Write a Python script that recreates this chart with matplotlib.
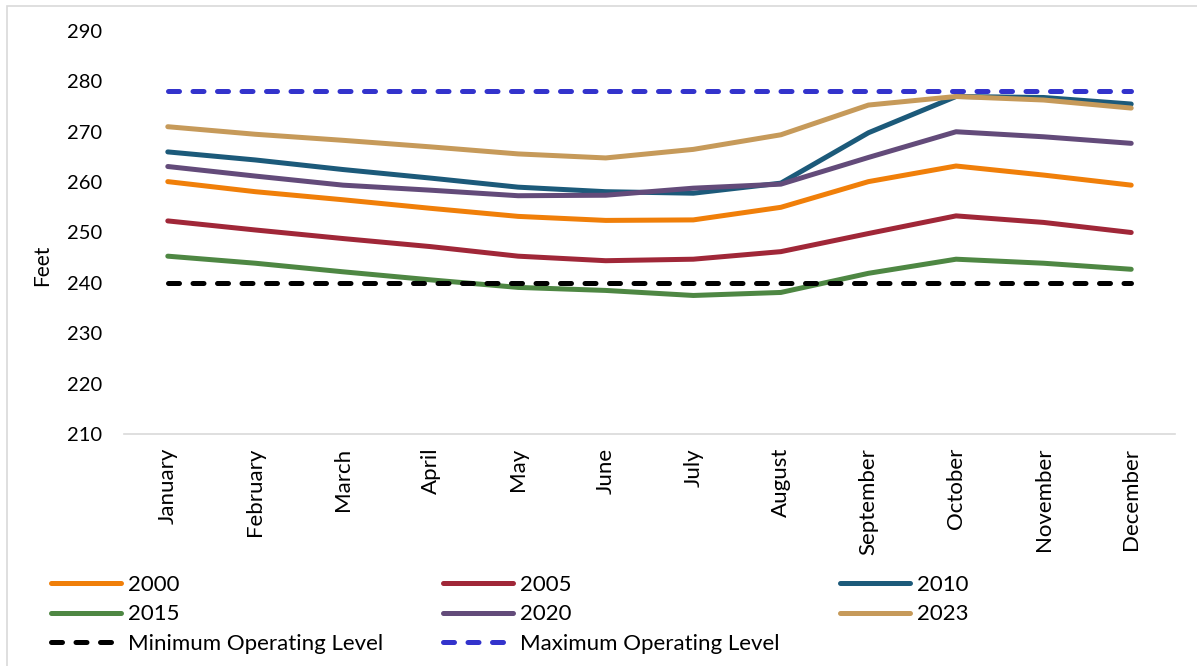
import matplotlib.pyplot as plt
from matplotlib.patches import Rectangle

plt.rcParams["font.family"] = ["Lato", "DejaVu Sans"]

MONTHS = [
    "January", "February", "March", "April", "May", "June",
    "July", "August", "September", "October", "November", "December",
]

# reservoir elevation by month, feet
Y2000 = [260.1, 258.1, 256.5, 254.8, 253.2, 252.4, 252.5, 255.0, 260.1, 263.2, 261.4, 259.4]
Y2005 = [252.3, 250.5, 248.8, 247.2, 245.3, 244.4, 244.7, 246.2, 249.8, 253.3, 252.0, 250.0]
Y2010 = [266.0, 264.4, 262.5, 260.8, 259.0, 258.1, 257.8, 259.8, 269.8, 277.0, 276.8, 275.5]
Y2015 = [245.3, 243.9, 242.2, 240.6, 239.1, 238.5, 237.5, 238.1, 241.9, 244.7, 243.9, 242.7]
Y2020 = [263.1, 261.2, 259.4, 258.4, 257.3, 257.4, 258.8, 259.6, 264.9, 270.0, 269.0, 267.7]
Y2023 = [271.0, 269.5, 268.3, 267.0, 265.6, 264.8, 266.5, 269.4, 275.3, 277.0, 276.3, 274.7]

MIN_LEVEL = 240
MAX_LEVEL = 278

SERIES = [
    ("2000", Y2000, "#F07F09"),
    ("2005", Y2005, "#A02738"),
    ("2010", Y2010, "#1C5A7A"),
    ("2015", Y2015, "#4E8743"),
    ("2020", Y2020, "#634B7A"),
    ("2023", Y2023, "#C69A5A"),
]

W, H = 1197, 666
fig = plt.figure(figsize=(W / 100, H / 100), dpi=100)
ax = fig.add_axes([124 / W, 1 - 434 / H, (1175 - 124) / W, (434 - 31) / H])

x = list(range(len(MONTHS)))
LW = 3.6
handles = {}
for name, vals, color in SERIES:
    (ln,) = ax.plot(x, vals, color=color, lw=LW, solid_capstyle="round",
                    solid_joinstyle="round", label=name)
    handles[name] = ln

dash = dict(lw=LW, dash_capstyle="round", dashes=(2.2, 2.7))
(hmin,) = ax.plot(x, [MIN_LEVEL] * len(x), color="black", label="Minimum Operating Level", **dash)
(hmax,) = ax.plot(x, [MAX_LEVEL] * len(x), color="#3333CC", label="Maximum Operating Level", **dash)

ax.set_xlim(-0.5, len(MONTHS) - 0.5)
ax.set_ylim(210, 290)
ax.set_yticks(range(210, 291, 10))
ax.set_xticks(x)
ax.set_xticklabels(MONTHS, rotation=90)
ax.tick_params(axis="x", length=0, pad=10, labelsize=16)
ax.tick_params(axis="y", length=0, pad=15.5, labelsize=14.5)

for side in ("top", "right", "left"):
    ax.spines[side].set_visible(False)
ax.spines["bottom"].set_color("#D9D9D9")
ax.spines["bottom"].set_linewidth(1.2)

fig.text(42 / W, 1 - 265 / H, "Feet", rotation=90, ha="center", va="center", fontsize=15)

# legend laid out row-wise across three columns
order = [handles["2000"], handles["2015"], hmin,
         handles["2005"], handles["2020"], hmax,
         handles["2010"], handles["2023"]]
fig.legend(order, [h.get_label() for h in order], ncol=3, frameon=False,
           loc="upper left", bbox_to_anchor=(40 / W, 1 - 564 / H),
           fontsize=16, handlelength=3.15, handletextpad=0.32,
           columnspacing=2.7, labelspacing=0.42, borderpad=0)

# thin chart-area border
fig.patches.append(Rectangle((7 / W, -0.1), 1.2, 1.1 - 6 / H, transform=fig.transFigure,
                             fill=False, edgecolor="#D9D9D9", lw=1.2))

fig.savefig("out.png", dpi=100)
